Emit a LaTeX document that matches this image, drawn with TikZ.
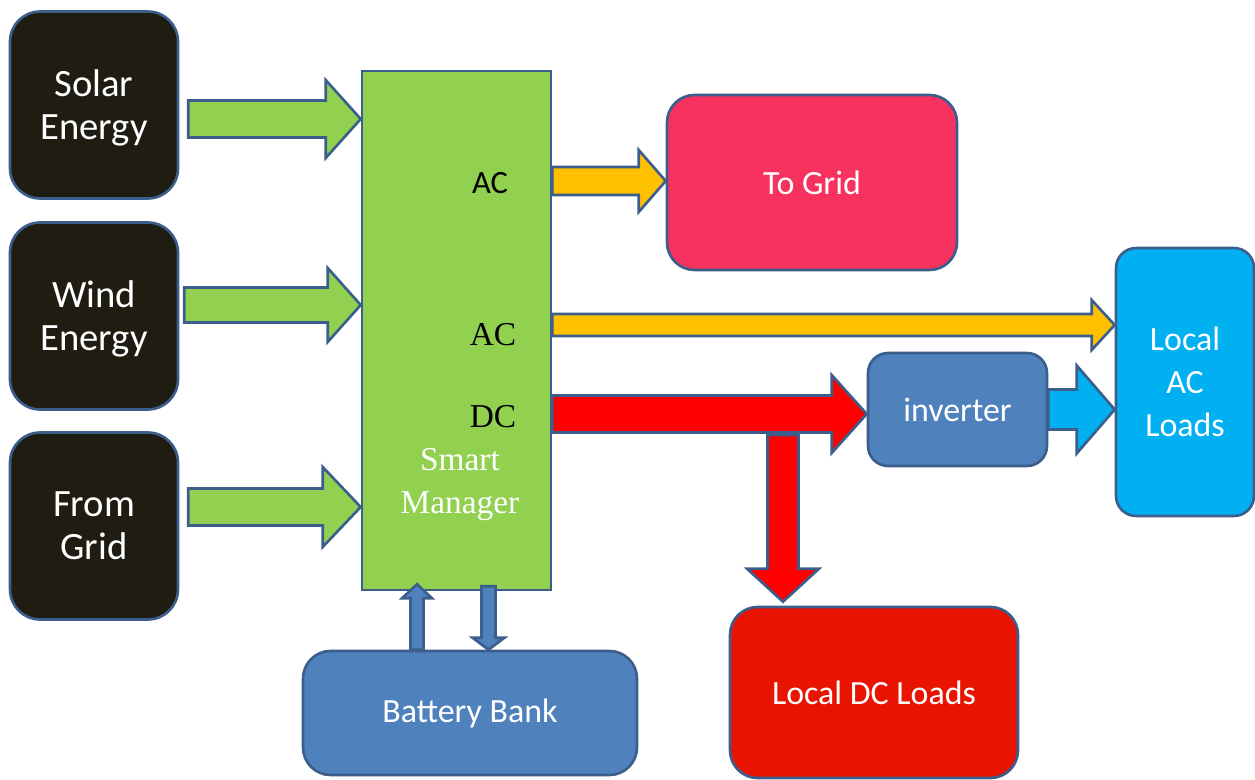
\documentclass[tikz,border=0pt]{standalone}
\usepackage{fontspec}
\setmainfont{Carlito}
\newfontfamily\timesfont{Liberation Serif}
\usepackage{tikz}
\usetikzlibrary{calc}

\definecolor{edge}{HTML}{3B5E8C}
\definecolor{coal}{HTML}{1F1C12}
\definecolor{leaf}{HTML}{92D050}
\definecolor{amber}{HTML}{FFC000}
\definecolor{pinkred}{HTML}{F8325F}
\definecolor{sky}{HTML}{00B0F0}
\definecolor{steel}{HTML}{4F81BD}
\definecolor{dcred}{HTML}{E81300}

% fat block arrow: fill, start, tip, shaft half width, head half width, head length
\newcommand{\fatarrow}[6]{%
  \coordinate (fa-s) at #2;
  \coordinate (fa-t) at #3;
  \coordinate (fa-h) at ($(fa-t)!#6!(fa-s)$);
  \filldraw[arrowline, fill=#1] ($(fa-s)!#4!90:(fa-t)$) -- ($(fa-h)!#4!90:(fa-t)$)
    -- ($(fa-h)!#5!90:(fa-t)$) -- (fa-t) -- ($(fa-h)!#5!-90:(fa-t)$)
    -- ($(fa-h)!#4!-90:(fa-t)$) -- ($(fa-s)!#4!-90:(fa-t)$) -- cycle;
}

\begin{document}
\begin{tikzpicture}[x=0.02cm,y=-0.02cm,
    arrowline/.style={draw=edge, line width=1.5pt, line join=miter},
    source/.style={draw=edge, line width=1.5pt, fill=coal, rounded corners=0.6cm,
      minimum width=3.36cm, minimum height=3.74cm, text=white, align=center,
      text depth=0pt, font=\fontsize{22}{24.5}\selectfont},
    block/.style={draw=edge, line width=1.5pt, rounded corners=0.55cm, text=white,
      align=center, font=\fontsize{19.3}{24.6}\selectfont},
    serif/.style={font=\timesfont\fontsize{19}{24}\selectfont}]
    \useasboundingbox (0,0) rectangle (1255,780);

    % sources on the left
    \node (solar)    [source] at (94,105) {Solar\\Energy};
    \node (wind)     [source] at (94,316) {Wind\\Energy};
    \node (fromgrid) [source] at (94,526) {From\\Grid};

    % manager
    \node (manager) [draw=edge, line width=1.5pt, fill=leaf, minimum width=3.78cm,
                     minimum height=10.38cm] at (456.5,330.5) {};
    \node (acone) [font=\fontsize{18.5}{22}\selectfont] at (490,183) {AC};
    \node (actwo) [serif] at (493,335) {AC};
    \node (dclabel) [serif] at (493,417) {DC};
    \node (smart) [serif, text=white, align=center, text depth=0pt] at (460,481) {Smart\\Manager};

    % outputs
    \node (togrid)   [block, fill=pinkred, minimum width=5.8cm, minimum height=3.5cm]
                     at (812,182.5) {To Grid};
    \node (acload)   [block, fill=sky, rounded corners=0.4cm, minimum width=2.76cm,
                     minimum height=5.36cm] at (1185,382) {Local\\AC\\Loads};
    \node (inverter) [block, fill=steel, rounded corners=0.4cm, minimum width=3.58cm,
                     minimum height=2.26cm] at (957.5,409.5) {inverter};
    \node (dcload)   [block, fill=dcred, minimum width=5.76cm, minimum height=3.42cm]
                     at (874,692.5) {Local DC Loads};
    \node (battery)  [block, fill=steel, minimum width=6.68cm, minimum height=2.48cm]
                     at (470,713) {Battery Bank};

    % arrows into the manager
    \fatarrow{leaf}{($(solar.east)+(9,14)$)}{(manager.west |- fa-s)}{.37cm}{.78cm}{.7cm}
    \fatarrow{leaf}{($(wind.east)+(5,-11)$)}{(manager.west |- fa-s)}{.35cm}{.74cm}{.66cm}
    \fatarrow{leaf}{($(fromgrid.east)+(9,-19)$)}{(manager.west |- fa-s)}{.37cm}{.8cm}{.76cm}

    % arrows out of the manager
    \fatarrow{amber}{($(manager.east)+(0,-149.5)$)}{(togrid.west |- fa-s)}{.28cm}{.62cm}{.54cm}
    \fatarrow{amber}{($(manager.east)+(0,-5.5)$)}{(acload.west |- fa-s)}{.22cm}{.5cm}{.46cm}
    \fatarrow{red}{($(manager.east)+(0,83.5)$)}{(inverter.west |- fa-s)}{.37cm}{.78cm}{.7cm}
    \fatarrow{sky}{(inverter.east)}{(acload.west |- fa-s)}{.4cm}{.88cm}{.76cm}

    \coordinate (dcsplit) at (783,435);
    \fatarrow{red}{(dcsplit)}{($(dcsplit |- dcload.north)+(0,-4)$)}{.31cm}{.72cm}{.66cm}

    % battery link
    \fatarrow{steel}{($(battery.north)+(-53,0)$)}{($(fa-s |- manager.south)+(0,-7)$)}{.13cm}{.3cm}{.28cm}
    \fatarrow{steel}{($(manager.south)+(32,-5)$)}{(fa-s |- battery.north)}{.14cm}{.32cm}{.24cm}
\end{tikzpicture}
\end{document}
